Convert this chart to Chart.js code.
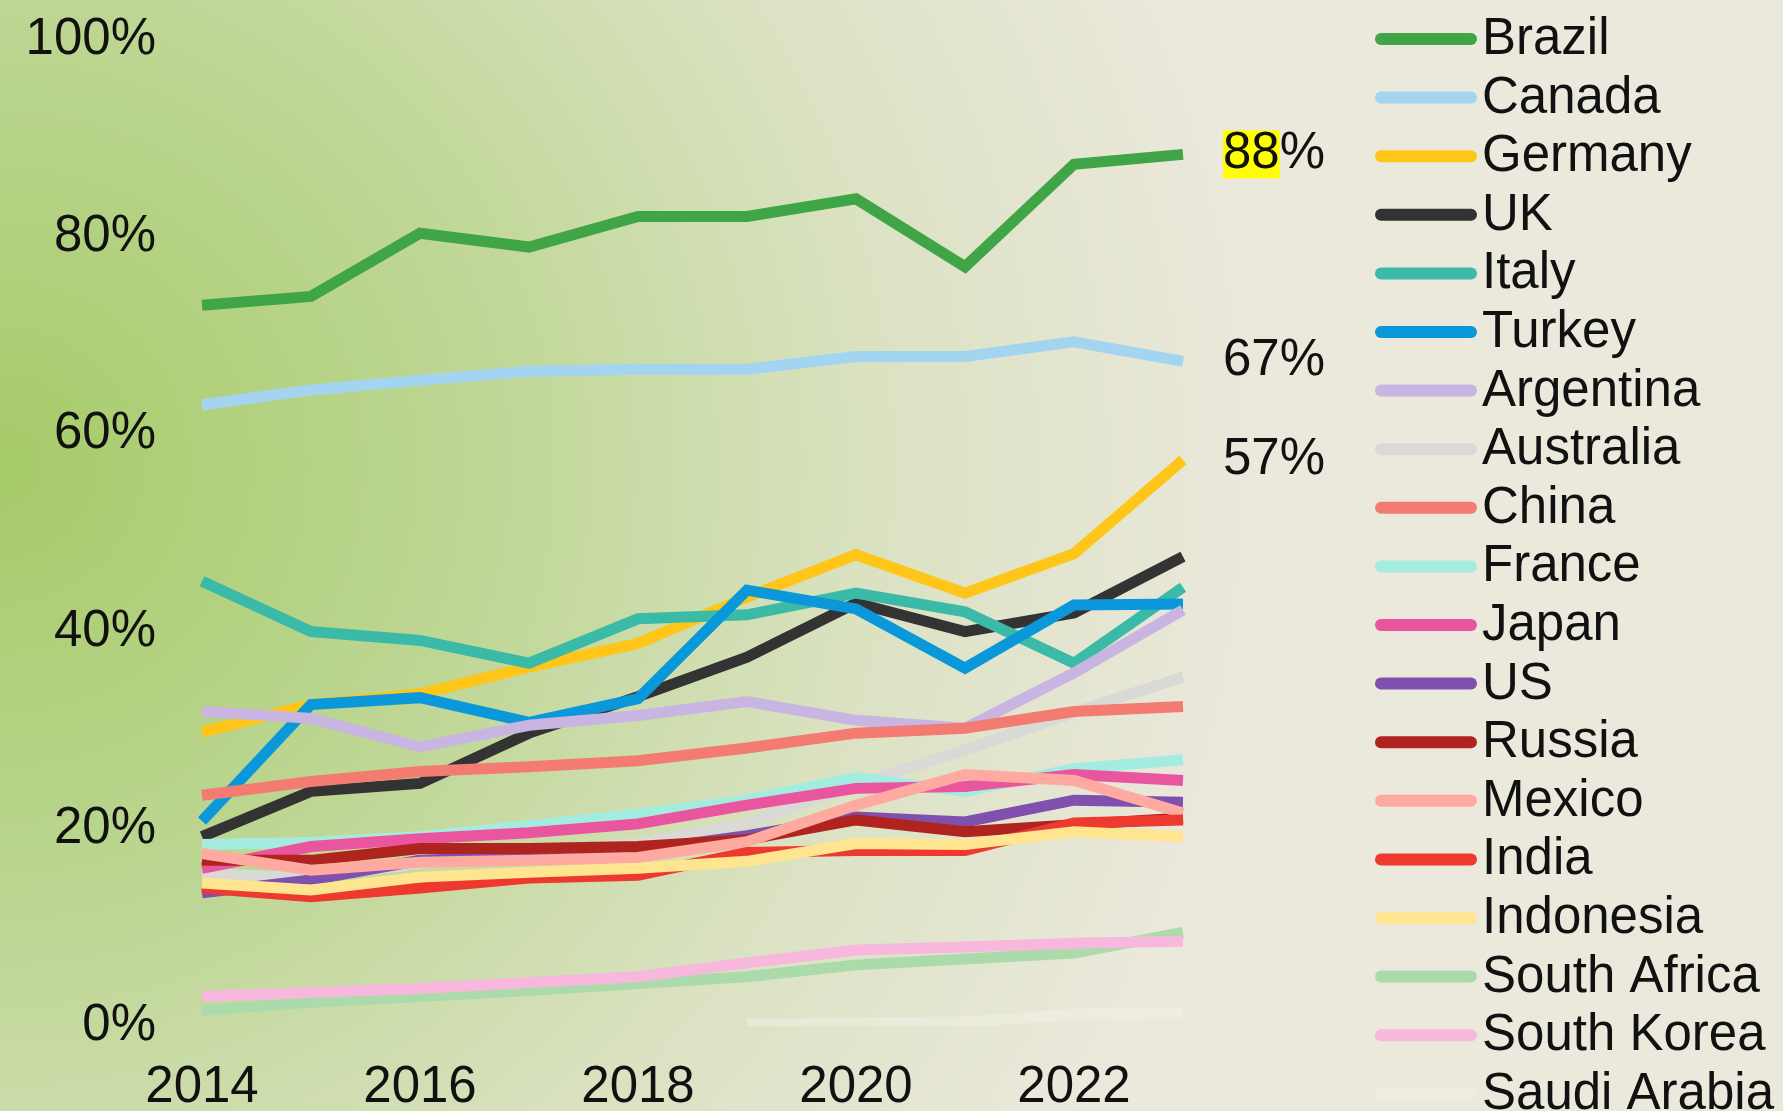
<!DOCTYPE html>
<html>
<head>
<meta charset="utf-8">
<script src="https://cdn.jsdelivr.net/npm/chart.js@4/dist/chart.umd.min.js"></script>
<style>
  html, body { margin: 0; padding: 0; }
  body {
    width: 1783px; height: 1111px; overflow: hidden;
    background: radial-gradient(ellipse 80% 125% at 0% 42%, #a6cb69 0%, #bfd796 35%, #dbe2c2 62%, #ebe8dc 88%);
  }
  #wrap { width: 1783px; height: 1111px; position: relative; }
</style>
</head>
<body>
<div id="wrap"><canvas id="chart"></canvas></div>
<script>
// Datos (en %)
const years = ['2014', '2015', '2016', '2017', '2018', '2019', '2020', '2021', '2022', '2023'];

const brazil      = [73.1, 74.0, 80.4, 79.0, 82.1, 82.1, 83.9, 77.0, 87.4, 88.4];
const canada      = [63.0, 64.5, 65.5, 66.4, 66.6, 66.6, 67.9, 67.9, 69.4, 67.4];
const germany     = [29.8, 32.6, 33.7, 36.4, 38.8, 43.5, 47.8, 43.9, 47.9, 57.4];
const uk          = [19.2, 23.8, 24.6, 29.7, 33.4, 37.4, 42.9, 40.0, 41.9, 47.6];
const italy       = [45.1, 40.0, 39.1, 36.8, 41.3, 41.7, 43.9, 42.0, 36.8, 44.5];
const turkey      = [20.8, 32.6, 33.3, 30.8, 33.2, 44.2, 42.3, 36.3, 42.7, 42.8];
const argentina   = [31.9, 31.2, 28.3, 30.5, 31.5, 32.9, 31.0, 30.2, 35.8, 42.2];
const australia   = [15.5, 15.0, 16.5, 17.5, 18.5, 20.5, 24.5, 28.0, 31.8, 35.4];
const china       = [23.4, 24.8, 25.8, 26.3, 26.9, 28.2, 29.7, 30.2, 31.9, 32.4];
const france      = [18.4, 18.6, 19.2, 20.3, 21.5, 22.9, 25.2, 23.8, 26.1, 27.0];
const japan       = [16.0, 18.2, 19.0, 19.6, 20.5, 22.4, 24.1, 24.3, 25.5, 24.9];
const us          = [13.5, 14.8, 16.8, 17.2, 17.8, 19.3, 21.2, 20.7, 22.9, 22.7];
const russia      = [16.8, 16.8, 18.0, 18.0, 18.2, 18.9, 20.9, 19.7, 20.4, 21.1];
const mexico      = [17.5, 15.8, 16.6, 16.8, 17.1, 18.7, 22.4, 25.5, 24.9, 21.6];
const india       = [14.0, 13.1, 14.0, 15.0, 15.3, 17.6, 17.8, 17.8, 20.6, 20.9];
const indonesia   = [14.5, 13.8, 15.1, 15.6, 16.0, 16.7, 18.5, 18.4, 19.7, 19.2];
const southAfrica = [1.6, 2.4, 3.0, 3.6, 4.3, 5.0, 6.2, 6.8, 7.4, 9.5];
const southKorea  = [3.0, 3.4, 3.8, 4.4, 5.0, 6.4, 7.7, 8.0, 8.4, 8.6];
const saudiArabia = [null, null, null, null, null, 0.2, 0.3, 0.4, 1.2, 1.4];

const yTicks = [0, 20, 40, 60, 80, 100];
const labelled = ['Brazil', 'Canada', 'Germany'];   // series with an end label

const series = [
    ['Brazil', brazil, '#3fa546'],
    ['Canada', canada, '#a4d5f0'],
    ['Germany', germany, '#ffc619'],
    ['UK', uk, '#333333'],
    ['Italy', italy, '#3bbba7'],
    ['Turkey', turkey, '#0b98db'],
    ['Argentina', argentina, '#c9b5e1'],
    ['Australia', australia, '#d9d9d6'],
    ['China', china, '#f47b71'],
    ['France', france, '#a5ece0'],
    ['Japan', japan, '#e9569f'],
    ['US', us, '#7f50ad'],
    ['Russia', russia, '#b0241f'],
    ['Mexico', mexico, '#ffaaa1'],
    ['India', india, '#ee3a2e'],
    ['Indonesia', indonesia, '#ffe590'],
    ['South Africa', southAfrica, '#abdbab'],
    ['South Korea', southKorea, '#f8b7dc'],
    ['Saudi Arabia', saudiArabia, 'rgba(246,245,238,0.35)']
];

const FONT = '"Liberation Sans", Arial, sans-serif';

// leyenda y etiquetas finales dibujadas a mano
const extras = {
    id: 'extras',
    afterDraw(chart) {
        const ctx = chart.ctx;
        const area = chart.chartArea;
        const yScale = chart.scales.y;
        ctx.save();
        ctx.font = '51px ' + FONT;
        ctx.textBaseline = 'middle';

        // etiquetas al final de la línea
        chart.data.datasets.forEach(ds => {
            if (!labelled.includes(ds.label)) return;
            const last = ds.data[ds.data.length - 1];
            const y = yScale.getPixelForValue(last);
            const x = area.right + 40;
            const num = String(Math.round(last));
            if (ds.label === 'Brazil') {
                const w = ctx.measureText(num).width;
                ctx.fillStyle = '#ffff00';
                ctx.fillRect(x, y - 24, w, 48);
            }
            ctx.fillStyle = '#111';
            ctx.textAlign = 'left';
            ctx.fillText(num + '%', x, y);
        });

        // leyenda
        chart.data.datasets.forEach((ds, i) => {
            const y = 39 + i * 58.6;
            ctx.strokeStyle = ds.borderColor;
            ctx.lineWidth = 12;
            ctx.lineCap = 'round';
            ctx.beginPath();
            ctx.moveTo(1381, y);
            ctx.lineTo(1471, y);
            ctx.stroke();
            ctx.fillStyle = '#111';
            ctx.fillText(ds.label, 1482, y + 1);
        });
        ctx.restore();
    }
};

const datasets = series.map(([name, values, color], i) => ({
    label: name,
    data: values,
    borderColor: color,
    backgroundColor: color,
    borderWidth: 11,
    pointRadius: 0,
    tension: 0,
    fill: false,
    order: -i
}));

new Chart(document.getElementById('chart').getContext('2d'), {
    type: 'line',
    data: { labels: years, datasets: datasets },
    options: {
        responsive: true,
        maintainAspectRatio: false,
        animation: false,
        layout: { padding: { top: 40, right: 600, left: 0, bottom: 0 } },
        plugins: {
            legend: { display: false },
            tooltip: { enabled: false }
        },
        scales: {
            x: {
                grid: { display: false, drawTicks: false },
                border: { display: false },
                ticks: {
                    autoSkip: false,
                    maxRotation: 0,
                    padding: 31,
                    color: '#111',
                    font: { family: FONT, size: 51 },
                    callback: function (v, i) { return i % 2 === 0 ? this.getLabelForValue(v) : ''; }
                },
                afterFit(s) { s.height = 85; s.paddingLeft = 0; s.paddingRight = 0; }
            },
            y: {
                min: 0,
                max: 100,
                grid: { display: false, drawTicks: false },
                border: { display: false },
                afterBuildTicks(s) { s.ticks = yTicks.map(v => ({ value: v })); },
                ticks: {
                    padding: 46,
                    color: '#111',
                    font: { family: FONT, size: 51 },
                    callback: v => v + '%'
                },
                afterFit(s) { s.width = 202; s.paddingTop = 0; s.paddingBottom = 0; }
            }
        }
    },
    plugins: [extras]
});
</script>
</body>
</html>
